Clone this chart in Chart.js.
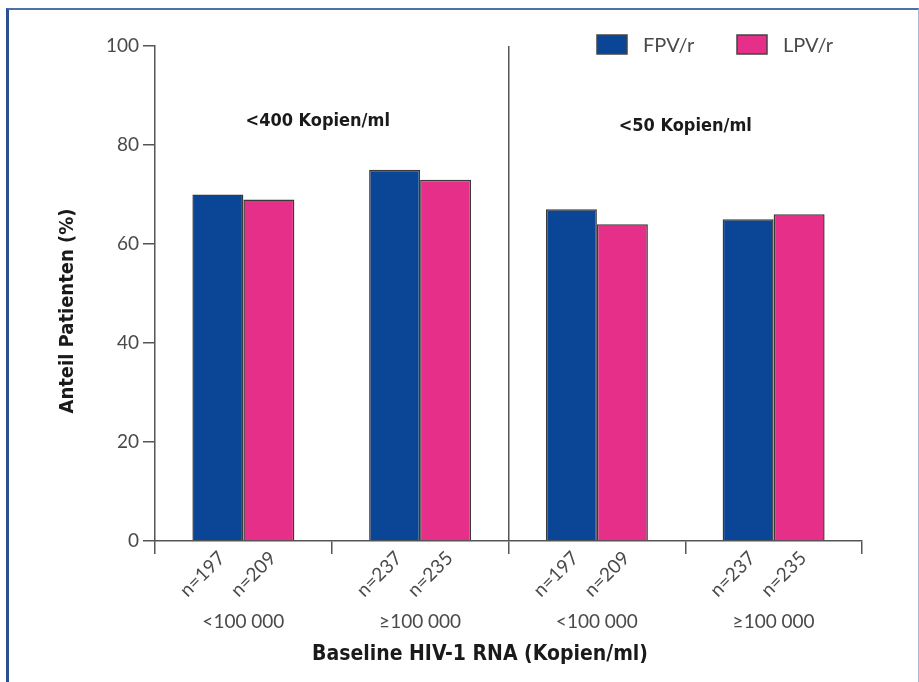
<!DOCTYPE html>
<html><head><meta charset="utf-8">
<script src="https://cdn.jsdelivr.net/npm/chart.js@4"></script>
<style>
html,body{margin:0;padding:0;background:#fff;}
#wrap{position:relative;width:919px;height:682px;overflow:hidden;}
#c{position:absolute;left:0;top:0;}
#frame{position:absolute;left:6px;top:8px;width:913px;height:700px;box-sizing:border-box;
 border-left:3px solid #2c4f93;border-top:2px solid #4f6fa9;border-right:1px solid #a8bad6;pointer-events:none;}
</style></head>
<body><div id="wrap"><canvas id="c" width="919" height="682"></canvas><div id="frame"></div></div>
<script>
const categories = ["<100 000", "\u2265100 000", "<100 000", "\u2265100 000"];
const seriesNames = ["FPV/r", "LPV/r"];
const fpvValues = [70, 75, 67, 65];
const lpvValues = [69, 73, 64, 66];
const fpvN = [197, 237, 197, 237];
const lpvN = [209, 235, 209, 235];
const groupLabels = ["<400 Kopien/ml", "<50 Kopien/ml"];
const yTicks = [0, 20, 40, 60, 80, 100];
const yTitle = "Anteil Patienten (%)";
const xTitle = "Baseline HIV-1 RNA (Kopien/ml)";

const colors = ["#0b4595", "#e62f88"];
const tickFont = "Lato, 'Open Sans', sans-serif";
const narrowFont = "'Liberation Sans Narrow', 'DejaVu Sans Condensed', 'Roboto Condensed', sans-serif";

const extras = {
  id: 'extras',
  afterDraw(chart) {
    const ctx = chart.ctx, ca = chart.chartArea, xs = chart.scales.x;
    ctx.save();
    // n labels rotated under each bar
    ctx.font = "19px " + tickFont;
    ctx.fillStyle = "#4a4a4a";
    ctx.textAlign = "right";
    ctx.textBaseline = "middle";
    [fpvN, lpvN].forEach((arr, di) => {
      const meta = chart.getDatasetMeta(di);
      meta.data.forEach((bar, i) => {
        ctx.save();
        ctx.translate(bar.x + 4, ca.bottom + 14);
        ctx.rotate(-Math.PI / 4);
        ctx.fillText("n=" + arr[i], 0, 0);
        ctx.restore();
      });
    });
    // group labels
    ctx.font = "bold 18px " + narrowFont;
    ctx.fillStyle = "#1a1a1a";
    ctx.textAlign = "center";
    ctx.textBaseline = "middle";
    const g1 = (xs.getPixelForValue(0) + xs.getPixelForValue(1)) / 2 - 14;
    const g2 = (xs.getPixelForValue(2) + xs.getPixelForValue(3)) / 2;
    ctx.fillText(groupLabels[0], g1, 121);
    ctx.fillText(groupLabels[1], g2, 126);
    // axis titles
    ctx.font = "bold 21px " + narrowFont;
    ctx.fillText(xTitle, 480, 655);
    ctx.font = "bold 20px " + narrowFont;
    ctx.save();
    ctx.translate(68, 311);
    ctx.rotate(-Math.PI / 2);
    ctx.fillText(yTitle, 0, 0);
    ctx.restore();
    // legend
    const lx = [597, 737];
    seriesNames.forEach((name, i) => {
      ctx.fillStyle = colors[i];
      ctx.fillRect(lx[i], 35, 30, 19);
      ctx.strokeStyle = "#444";
      ctx.lineWidth = 1.5;
      ctx.strokeRect(lx[i], 35, 30, 19);
      ctx.fillStyle = "#4a4a4a";
      ctx.font = "20px " + tickFont;
      ctx.textAlign = "left";
      ctx.fillText(name, lx[i] + 46, 46);
    });
    ctx.restore();
  }
};

new Chart(document.getElementById('c'), {
  type: 'bar',
  data: {
    labels: categories,
    datasets: [
      { label: seriesNames[0], data: fpvValues, backgroundColor: colors[0], borderColor: "#3a3a3a", borderWidth: 1.5 },
      { label: seriesNames[1], data: lpvValues, backgroundColor: colors[1], borderColor: "#3a3a3a", borderWidth: 1.5 }
    ]
  },
  options: {
    responsive: false,
    animation: false,
    devicePixelRatio: 1,
    layout: { padding: { left: 0, right: 57, top: 46, bottom: 0 } },
    plugins: { legend: { display: false }, tooltip: { enabled: false } },
    datasets: { bar: { categoryPercentage: 0.577, barPercentage: 1.0 } },
    scales: {
      x: {
        offset: true,
        afterFit(s) { s.height = 141; },
        grid: {
          offset: true,
          drawOnChartArea: true,
          color: c => c.index === 2 ? "#555" : "rgba(0,0,0,0)",
          tickColor: "#555",
          tickLength: 13,
          lineWidth: 1.5
        },
        border: { display: true, color: "#555", width: 1.5 },
        ticks: { font: { family: tickFont, size: 19 }, color: "#4a4a4a", padding: 56, maxRotation: 0 }
      },
      y: {
        min: 0, max: 100,
        afterFit(s) { s.width = 155; },
        afterBuildTicks(s) { s.ticks = yTicks.map(v => ({ value: v })); },
        grid: { drawOnChartArea: false, tickColor: "#555", tickLength: 12, lineWidth: 1.5 },
        border: { display: true, color: "#555", width: 1.5 },
        ticks: { font: { family: tickFont, size: 19 }, color: "#4a4a4a", padding: 4 }
      }
    }
  },
  plugins: [extras]
});
</script></body></html>
